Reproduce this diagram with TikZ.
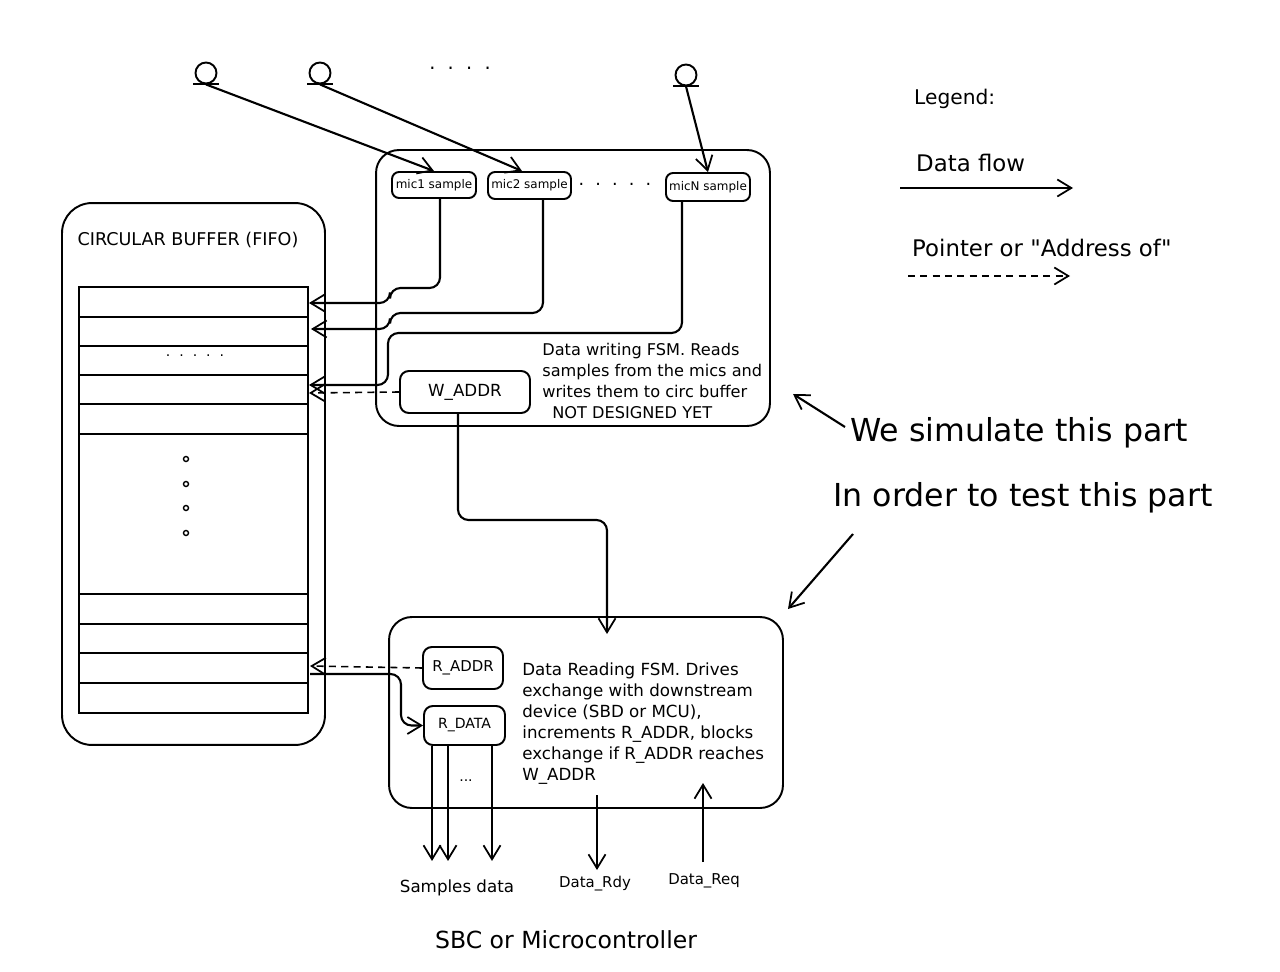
\documentclass[tikz,border=0pt]{standalone}
\usepackage{fontspec}
\setmainfont{DejaVu Sans}
\usepackage{tikz}
\usetikzlibrary{positioning,calc,arrows.meta}

\tikzset{
    tip/.style={-{Straight Barb[length=2.8mm,width=3.4mm,line width=1pt]}},
    wire/.style={tip,line width=1.2pt,rounded corners=6pt},
    ptr/.style={tip,line width=0.9pt,dash pattern=on 4pt off 3pt},
    fsmbox/.style={draw,line width=1.1pt,rounded corners=13pt},
    regbox/.style={draw,line width=1.1pt,rounded corners=5pt,inner sep=1pt},
    micbox/.style={draw,line width=1.1pt,rounded corners=4pt,inner sep=1pt,font=\fontsize{6.8}{8}\selectfont},
    mic/.style={draw,circle,line width=1.1pt,minimum size=0.42cm,inner sep=0pt},
    note/.style={align=left,inner sep=0pt,font=\fontsize{9.2}{12}\selectfont},
    big/.style={font=\fontsize{18}{21}\selectfont},
    legendtxt/.style={font=\fontsize{13}{15}\selectfont,anchor=west},
}

\begin{document}
\begin{tikzpicture}[x=0.02cm,y=-0.02cm]
    \useasboundingbox (0,0) rectangle (1280,972);

    \node[mic] (mic1) at (206,73) {};
    \node[mic] (mic2) at (320,73) {};
    \node[mic] (micN) at (686,75) {};
    \foreach \m in {mic1,mic2,micN}
        \draw[line width=1.1pt] ([xshift=-0.26cm]\m.south) -- ([xshift=0.26cm]\m.south);
    \node[font=\fontsize{11}{13}\selectfont] (micdots) at (460,68) {.\ \ .\ \ .\ \ .};

    \node[fsmbox,minimum width=7.88cm,minimum height=5.52cm] (wfsm) at (573,288) {};
    \node[micbox,minimum width=1.68cm,minimum height=0.52cm] (m1box) at (434,185) {mic1 sample};
    \node[micbox,minimum width=1.66cm,minimum height=0.54cm] (m2box) at (529.5,185.5) {mic2 sample};
    \node[micbox,minimum width=1.68cm,minimum height=0.56cm] (mNbox) at (708,187) {micN sample};
    \node[font=\fontsize{10}{12}\selectfont] (boxdots) at (615,184) {.\ \ .\ \ .\ \ .\ \ .};
    \node[regbox,minimum width=2.6cm,minimum height=0.84cm,font=\fontsize{9.5}{11}\selectfont] (waddr) at (465,392) {W\_ADDR};
    \node[note,anchor=north west] (wnote) at (542,343) {Data writing FSM. Reads\\samples from the mics and\\writes them to circ buffer\\\hspace*{0.2cm}NOT DESIGNED YET};

    \node[draw,line width=1.1pt,rounded corners=17pt,minimum width=5.26cm,minimum height=10.84cm] (fifo) at (193.5,474) {};
    \node[font=\fontsize{10}{12}\selectfont] (fifotitle) at (188,240) {CIRCULAR BUFFER (FIFO)};
    \draw[line width=1.1pt] (79,287) rectangle (308,713);
    \foreach \y in {317,346,375,404,434,594,624,653,683}
        \draw[line width=1.1pt] (79,\y) -- (308,\y);
    \node[font=\fontsize{8}{10}\selectfont] (celldots) at (195,356) {.\ \ .\ \ .\ \ .\ \ .};
    \foreach \y in {459,484,508,533}
        \draw[line width=0.8pt] (186,\y) circle (0.05cm);
    \coordinate (in1) at (309,303);
    \coordinate (in2) at (311,329);
    \coordinate (in3) at (309,385);
    \coordinate (inw) at (309,393);
    \coordinate (outr) at (310,666);
    \coordinate (outd) at (310,674);

    \node[fsmbox,minimum width=7.88cm,minimum height=3.82cm] (rfsm) at (586,712.5) {};
    \node[regbox,minimum width=1.6cm,minimum height=0.84cm,font=\fontsize{8.5}{10}\selectfont] (raddr) at (463,668) {R\_ADDR};
    \node[regbox,minimum width=1.62cm,minimum height=0.78cm,font=\fontsize{8}{10}\selectfont] (rdata) at (464.5,725.5) {R\_DATA};
    \node[font=\fontsize{8}{10}\selectfont] (datadots) at (466,781) {...};
    \node[note,anchor=north west,font=\fontsize{9.5}{12}\selectfont] (rnote) at (522,662) {Data Reading FSM. Drives\\exchange with downstream\\device (SBD or MCU),\\increments R\_ADDR, blocks\\exchange if R\_ADDR reaches\\W\_ADDR};
    \coordinate (rin) at (607,634);

    \draw[wire] (mic1.south) -- (m1box.north);
    \draw[wire] (mic2.south) -- ([xshift=-0.15cm]m2box.north);
    \draw[wire] (micN.south) -- (mNbox.north);

    \draw[wire] ([xshift=0.12cm]m1box.south) -- (440,288) -- (390,288) -- (390,303) -- (in1);
    \draw[wire] ([xshift=0.27cm]m2box.south) -- (543,313) -- (390,313) -- (390,329) -- (in2);
    \draw[wire] ([xshift=-0.52cm]mNbox.south) -- (682,333) -- (388,333) -- (388,385) -- (in3);
    \draw[ptr] (waddr.west) -- (inw);
    \draw[wire] ([xshift=-0.14cm]waddr.south) -- (458,520) -- (607,520) -- (rin);

    \draw[ptr] (raddr.west) -- (outr);
    \draw[wire] (outd) -- (401,674) |- (rdata.west);
    \foreach \dx in {-0.65,-0.33,0.55}
        \draw[wire,rounded corners=0pt] ([xshift=\dx cm]rdata.south) -- ++(0,115);

    \coordinate (rdyfrom) at (597,795);
    \coordinate (rdyto) at (597,870);
    \coordinate (reqfrom) at (703,862);
    \coordinate (reqto) at (703,783);
    \draw[wire] (rdyfrom) -- (rdyto);
    \draw[wire] (reqfrom) -- (reqto);
    \node[font=\fontsize{9.5}{11}\selectfont] (samples) at (457,888) {Samples data};
    \node[font=\fontsize{8.5}{10}\selectfont] (rdy) at (595,884) {Data\_Rdy};
    \node[font=\fontsize{8.5}{10}\selectfont] (req) at (704,881) {Data\_Req};
    \node[font=\fontsize{13.4}{15}\selectfont] (host) at (566,940) {SBC or Microcontroller};

    \node[legendtxt,font=\fontsize{11.5}{13}\selectfont] (legend) at (908,99) {Legend:};
    \node[legendtxt] (flowlbl) at (910,163) {Data flow};
    \node[legendtxt] (ptrlbl) at (906,248) {Pointer or \textquotedbl Address of\textquotedbl};
    \coordinate (flowa) at (900,188);
    \coordinate (flowb) at (1073,188);
    \coordinate (ptra) at (908,276);
    \coordinate (ptrb) at (1070,276);
    \draw[wire,line width=1.5pt] (flowa) -- (flowb);
    \draw[ptr] (ptra) -- (ptrb);

    \node[big] (simtxt) at (1019,433) {We simulate this part};
    \node[big] (testtxt) at (1023,498) {In order to test this part};
    \coordinate (simfrom) at (845,427);
    \coordinate (simto) at (793,394);
    \coordinate (testfrom) at (853,534);
    \coordinate (testto) at (788,609);
    \draw[wire] (simfrom) -- (simto);
    \draw[wire] (testfrom) -- (testto);
\end{tikzpicture}
\end{document}
